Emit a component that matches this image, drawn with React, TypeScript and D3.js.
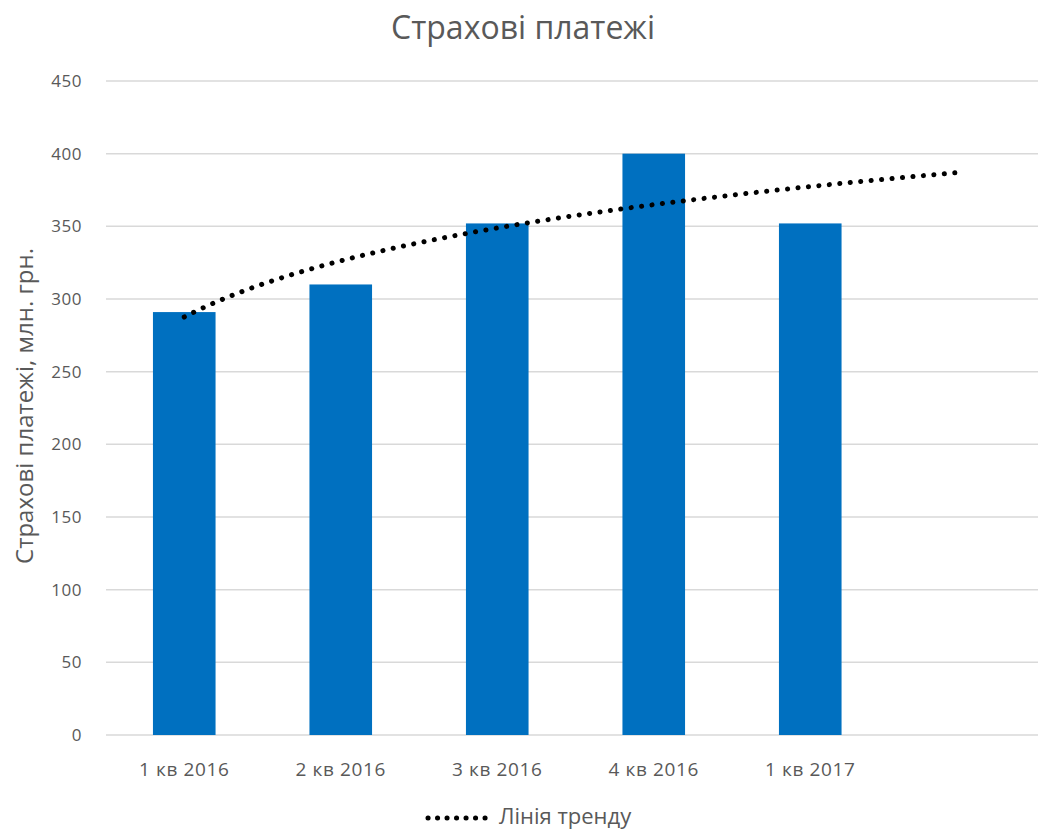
import React from "react";
import * as d3 from "d3";

const categories = ["1 кв 2016", "2 кв 2016", "3 кв 2016", "4 кв 2016", "1 кв 2017", ""];
const values = [291, 310, 352, 400, 352];
const yTicks = [0, 50, 100, 150, 200, 250, 300, 350, 400, 450];
const title = "Страхові платежі";
const yLabel = "Страхові платежі, млн. грн.";
const legendLabel = "Лінія тренду";
const forecastForward = 0.95;

const W = 1038;
const H = 830;
const FONT = "'Open Sans', sans-serif";

export default function App() {
  const x = d3
    .scaleBand<string>()
    .domain(categories.map((c, i) => String(i)))
    .range([106, 1045])
    .paddingInner(0.6)
    .paddingOuter(0.3);
  const y = d3.scaleLinear().domain([0, 450]).range([735, 81]);

  // logarithmic trend line fit (as Excel)
  const xs = values.map((_, i) => Math.log(i + 1));
  const mx = d3.mean(xs)!;
  const my = d3.mean(values)!;
  const sxy = d3.sum(xs.map((lx, i) => (lx - mx) * (values[i] - my)));
  const sxx = d3.sum(xs.map((lx) => (lx - mx) ** 2));
  const b = sxy / sxx;
  const a = my - b * mx;
  const step = x.step();
  const cx = (t: number) => x("0")! + x.bandwidth() / 2 + (t - 1) * step;
  const end = values.length + forecastForward;
  const pts: [number, number][] = d3
    .range(1, end + 0.0001, 0.05)
    .map((t) => [cx(t), y(a + b * Math.log(t))]);
  const line = d3.line()(pts)!;

  return (
    <svg width={W} height={H} style={{ position: "absolute", left: 0, top: 0, background: "#fff" }}>
      <text x={523} y={39} textAnchor="middle" fontFamily={FONT} fontSize={32} fill="#595959">
        {title}
      </text>
      {yTicks.map((t) => (
        <g key={t}>
          <line x1={106} x2={W} y1={y(t)} y2={y(t)} stroke="#d9d9d9" strokeWidth={1.5} />
          <text x={82} y={y(t) + 6} textAnchor="end" fontFamily={FONT} fontSize={17} letterSpacing={0.5} fill="#595959">
            {t}
          </text>
        </g>
      ))}
      <text
        transform={`translate(33,406) rotate(-90)`}
        textAnchor="middle"
        fontFamily={FONT}
        fontSize={24}
        fill="#595959"
      >
        {yLabel}
      </text>
      {values.map((v, i) => (
        <rect
          key={i}
          x={x(String(i))}
          y={y(v)}
          width={x.bandwidth()}
          height={y(0) - y(v)}
          fill="#0070c0"
        />
      ))}
      {categories.map((c, i) => (
        <text
          key={i}
          x={x(String(i))! + x.bandwidth() / 2}
          y={776}
          textAnchor="middle"
          fontFamily={FONT}
          fontSize={19}
          letterSpacing={0.6}
          fill="#595959"
        >
          {c}
        </text>
      ))}
      <path d={line} fill="none" stroke="#000" strokeWidth={5} strokeLinecap="round" strokeDasharray="0.1 10.4" />
      <line x1={428} x2={494} y1={818} y2={818} stroke="#000" strokeWidth={5} strokeLinecap="round" strokeDasharray="0.1 9.4" />
      <text x={499} y={824} fontFamily={FONT} fontSize={22} fill="#595959">
        {legendLabel}
      </text>
    </svg>
  );
}
